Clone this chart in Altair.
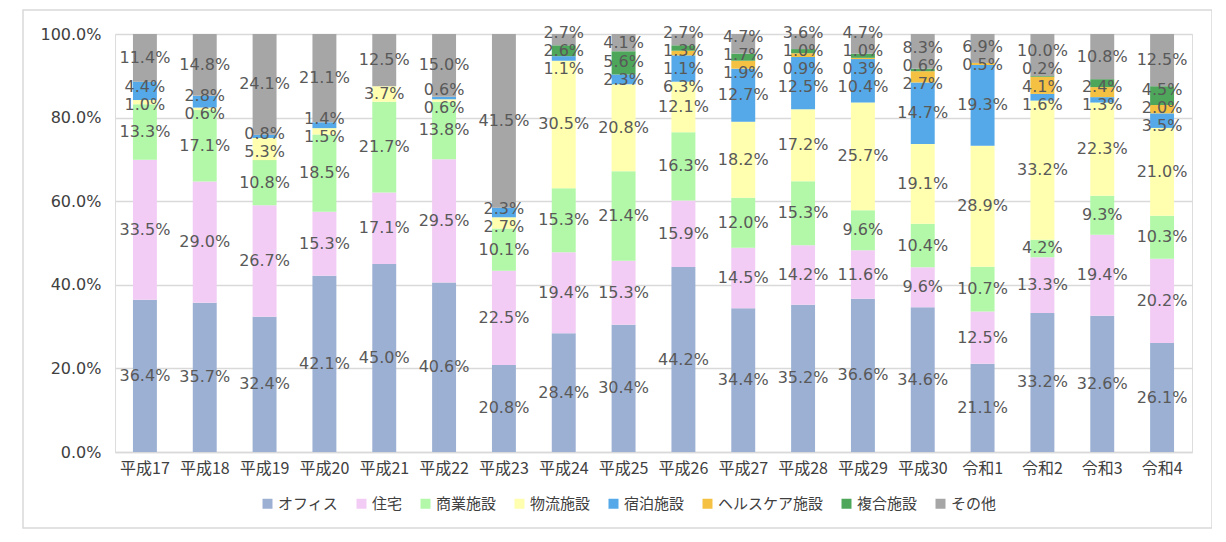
import altair as alt
import pandas as pd

years = ["平成17", "平成18", "平成19", "平成20", "平成21", "平成22", "平成23", "平成24", "平成25",
         "平成26", "平成27", "平成28", "平成29", "平成30", "令和1", "令和2", "令和3", "令和4"]
series = ["オフィス", "住宅", "商業施設", "物流施設", "宿泊施設", "ヘルスケア施設", "複合施設", "その他"]
colors = ["#9CB0D4", "#F2CCF4", "#B2F8A8", "#FFFFAF", "#55A9E8", "#F5C143", "#4EA65B", "#A6A6A6"]

office = [36.4, 35.7, 32.4, 42.1, 45.0, 40.6, 20.8, 28.4, 30.4, 44.2, 34.4, 35.2, 36.6, 34.6, 21.1, 33.2, 32.6, 26.1]
housing = [33.5, 29.0, 26.7, 15.3, 17.1, 29.5, 22.5, 19.4, 15.3, 15.9, 14.5, 14.2, 11.6, 9.6, 12.5, 13.3, 19.4, 20.2]
commercial = [13.3, 17.1, 10.8, 18.5, 21.7, 13.8, 10.1, 15.3, 21.4, 16.3, 12.0, 15.3, 9.6, 10.4, 10.7, 4.2, 9.3, 10.3]
logistics = [1.0, 0.6, 5.3, 1.5, 3.7, 0.6, 2.7, 30.5, 20.8, 12.1, 18.2, 17.2, 25.7, 19.1, 28.9, 33.2, 22.3, 21.0]
hotel = [4.4, 2.8, 0.8, 1.4, 0.0, 0.6, 2.3, 1.1, 2.3, 6.3, 12.7, 12.5, 10.4, 14.7, 19.3, 1.6, 1.3, 3.5]
healthcare = [0.0, 0.0, 0.0, 0.0, 0.0, 0.0, 0.0, 0.0, 0.0, 1.1, 1.9, 0.9, 0.3, 2.7, 0.5, 4.1, 2.4, 2.0]
complex_ = [0.0, 0.0, 0.0, 0.0, 0.0, 0.0, 0.0, 2.6, 5.6, 1.3, 1.7, 1.0, 1.0, 0.6, 0.0, 0.2, 1.9, 4.5]
other = [11.4, 14.8, 24.1, 21.1, 12.5, 15.0, 41.5, 2.7, 4.1, 2.7, 4.7, 3.6, 4.7, 8.3, 6.9, 10.0, 10.8, 12.5]
# segments that carry no data label in the reference
unlabeled = [("令和3", "複合施設")]

values = [office, housing, commercial, logistics, hotel, healthcare, complex_, other]
rows = []
for si, (s, vals) in enumerate(zip(series, values)):
    for y, v in zip(years, vals):
        if v > 0:
            rows.append({"year": y, "series": s, "order": si, "value": v,
                         "show": 0 if (y, s) in unlabeled else 1})
df = pd.DataFrame(rows)

W, H = 1077, 418
GAP = 18.0 / H        # minimum vertical spacing between labels of one bar
TOP = 1.0 + 1.0 / H   # highest allowed label centre

# label centre = middle of each segment, then spread apart where labels would collide
df = df.sort_values(["year", "order"])
df["total"] = df.groupby("year")["value"].transform("sum")
df["cum"] = df.groupby("year")["value"].cumsum()
df["mid"] = (df["cum"] - df["value"] / 2) / df["total"]
df["lpos"] = df["mid"]
for y in years:
    idx = df[(df["year"] == y) & (df["show"] == 1)].sort_values("mid").index.tolist()
    pos = [df.at[i, "mid"] for i in idx]
    for _ in range(300):
        moved = False
        for k in range(len(pos) - 1):
            d = pos[k + 1] - pos[k]
            if d < GAP - 1e-6:
                shift = (GAP - d) / 2
                pos[k] -= shift
                pos[k + 1] += shift
                moved = True
        if pos and pos[-1] > TOP:
            pos[-1] = TOP
            moved = True
        if not moved:
            break
    for i, p in zip(idx, pos):
        df.at[i, "lpos"] = p
df = df.drop(columns=["total", "cum", "mid"])

base = alt.Chart(df).transform_joinaggregate(
    total="sum(value)", groupby=["year"]
).transform_window(
    cum="sum(value)", sort=[alt.SortField("order")], groupby=["year"], frame=[None, 0]
).transform_calculate(
    y0="(datum.cum - datum.value) / datum.total",
    y1="datum.cum / datum.total",
    label="format(datum.value, '.1f') + '%'",
)

xenc = alt.X("year:N", sort=years, title=None,
             scale=alt.Scale(paddingInner=0.6, paddingOuter=0.3),
             axis=alt.Axis(labelAngle=0, labelFontSize=16, labelColor="#404040",
                           labelFont="Noto Sans CJK JP", labelPadding=8,
                           ticks=False, domainColor="#D9D9D9", domainWidth=1.5,
                           grid=False))

bars = base.mark_bar().encode(
    x=xenc,
    y=alt.Y("y0:Q", scale=alt.Scale(domain=[0, 1], nice=False), title=None,
            axis=alt.Axis(values=[0, 0.2, 0.4, 0.6, 0.8, 1.0], format=".1%",
                          labelFontSize=16, labelColor="#404040", labelFont="DejaVu Sans",
                          labelPadding=14, ticks=False, domain=False,
                          gridColor="#D9D9D9", gridWidth=1.5)),
    y2="y1:Q",
    color=alt.Color("series:N", sort=series,
                    scale=alt.Scale(domain=series, range=colors),
                    legend=alt.Legend(title=None, orient="none", direction="horizontal",
                                      columns=8, legendX=145, legendY=462,
                                      symbolType="square", symbolSize=100,
                                      symbolStrokeWidth=0, labelFontSize=15,
                                      labelFont="Noto Sans CJK JP", labelColor="#404040",
                                      columnPadding=15, labelOffset=3)),
)

labels = base.transform_filter("datum.show == 1").mark_text(
    fontSize=16, font="DejaVu Sans", color="#595959", baseline="middle", align="center"
).encode(
    x=alt.X("year:N", sort=years),
    y=alt.Y("lpos:Q"),
    text="label:N",
)

frame = alt.Chart(pd.DataFrame({"a": [0]})).mark_rect(
    fill=None, stroke="#D9D9D9", strokeWidth=1.5
).encode(
    x=alt.value(-92), x2=alt.value(W + 20), y=alt.value(-24), y2=alt.value(H + 76)
)

chart = alt.layer(frame, bars, labels).properties(
    width=W, height=H,
    autosize=alt.AutoSizeParams(type="none"),
    padding={"left": 107, "top": 26, "right": 20, "bottom": 80},
).configure_view(stroke=None).configure(background="white")

chart.save("out.html", embed_options={"renderer": "svg", "actions": False})
